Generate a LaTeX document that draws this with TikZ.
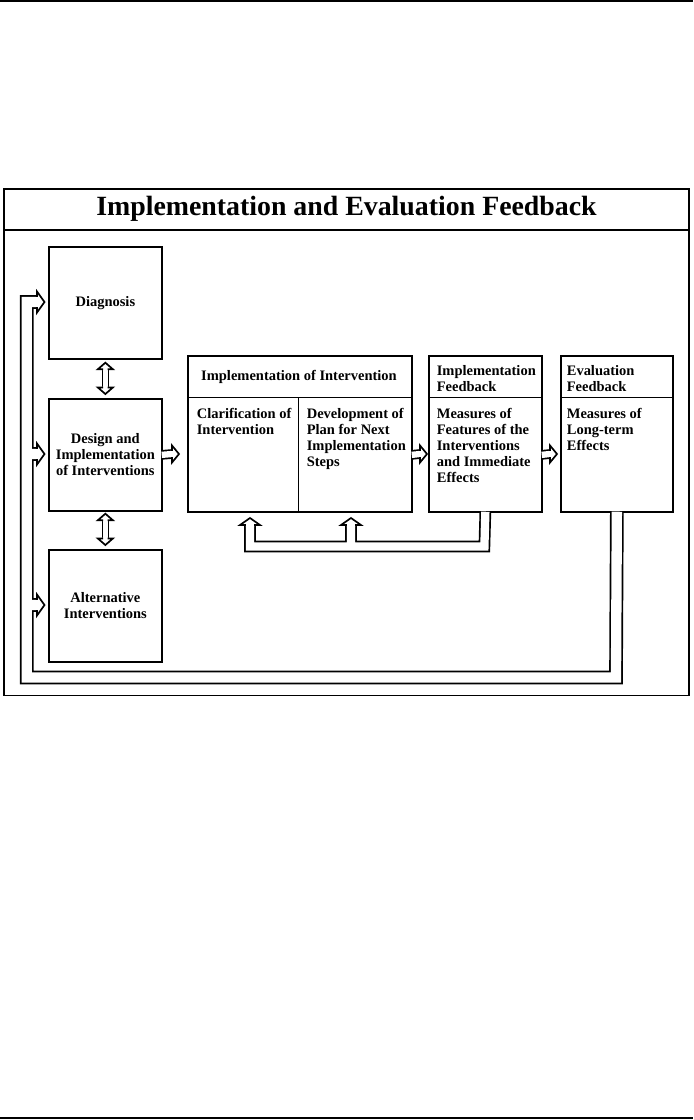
\documentclass[tikz,border=0pt]{standalone}
\usepackage{fontspec}
\setmainfont{Liberation Serif}
\usetikzlibrary{calc}

\tikzset{
  box/.style={draw, inner sep=0pt, minimum width=2.825cm, minimum height=2.8cm, align=center,
    font=\fontsize{10.3}{11.4}\selectfont\bfseries},
  txt/.style={inner sep=0pt, align=left, font=\fontsize{10.3}{11.4}\selectfont\bfseries},
  pipe/.style={white, line width=#1-1.2pt, line join=miter,
    preaction={draw=black, line width=#1+1.2pt, line join=miter}},
  pics/head/.style n args={3}{code={
    \filldraw[fill=white, line width=1.2pt, line join=miter]
      (-1,#1) -- (0,#1) -- (0,#2) -- (#3,0) -- (0,-#2) -- (0,-#1) -- (-1,-#1);}}
}

\begin{document}
\begin{tikzpicture}[x=0.025cm, y=-0.025cm, line width=1.2pt]
\useasboundingbox (0,0) rectangle (693,1120);

\draw[line width=1.6pt] (0,1.2) -- (693,1.2);
\draw[line width=1.6pt] (0,1117.9) -- (693,1117.9);

\draw (4,189) rectangle (689,695.5);
\draw (4,230) -- (689,230);
\node[font=\fontsize{19.8}{24}\selectfont\bfseries] (ttl) at (346.5,209) {Implementation and Evaluation Feedback};

\node[box, anchor=north west] (diag) at (48,246) {Diagnosis};
\node[box, anchor=north west] (desg) at (48,398) {Design and\\Implementation\\of Interventions};
\node[box, anchor=north west] (alt) at (48,549) {Alternative\\Interventions};

\node[box, anchor=north west, minimum width=5.6cm, minimum height=3.9cm] (impl) at (187,355) {};
\node[box, anchor=north west, minimum height=3.9cm] (ifb) at (428,355) {};
\node[box, anchor=north west, minimum width=2.8cm, minimum height=3.9cm] (efb) at (560,355) {};
\draw (187,397.5) -- (411,397.5);
\draw (298.5,397.5) -- (298.5,511);
\draw (428,397.5) -- (541,397.5);
\draw (560,397.5) -- (672,397.5);

\node[txt] (ihd) at (299,377) {Implementation of Intervention};
\node[txt, anchor=north west] (clar) at (196,407.5) {Clarification of\\Intervention};
\node[txt, anchor=north west] (dev) at (306,407.5) {Development of\\Plan for Next\\Implementation\\Steps};
\node[txt, anchor=north west] (ifbh) at (436,364.5) {Implementation\\Feedback};
\node[txt, anchor=north west] (ifbt) at (436,407.5) {Measures of\\Features of the\\Interventions\\and Immediate\\Effects};
\node[txt, anchor=north west] (efbh) at (566,364.5) {Evaluation\\Feedback};
\node[txt, anchor=north west] (efbt) at (566,407.5) {Measures of\\Long-term\\Effects};

% arrows between the boxes
\draw[pipe=0.2cm] ($(desg.east)+(-1,0)$) -- (172,454);
\pic at (172,454) {head={4}{8.5}{7}};
\draw[pipe=0.2cm] ($(impl.east |- desg.east)+(-1,0)$) -- (420,454);
\pic at (420,454) {head={4}{8.5}{7}};
\draw[pipe=0.2cm] ($(ifb.east |- desg.east)+(-1,0)$) -- (550,454);
\pic at (550,454) {head={4}{8.5}{7}};

\draw[pipe=0.15cm] ($(diag.south)+(0,9.5)$) -- ($(desg.north)+(0,-10.5)$);
\pic[rotate=90] at ($(diag.south)+(0,9.5)$) {head={3}{7.5}{6.5}};
\pic[rotate=-90] at ($(desg.north)+(0,-10.5)$) {head={3}{7.5}{6.5}};
\draw[pipe=0.15cm] ($(desg.south)+(0,8.5)$) -- ($(alt.north)+(0,-10.5)$);
\pic[rotate=90] at ($(desg.south)+(0,8.5)$) {head={3}{7.5}{6.5}};
\pic[rotate=-90] at ($(alt.north)+(0,-10.5)$) {head={3}{7.5}{6.5}};

% implementation feedback
\draw[pipe=0.25cm] ($(ifb.south)+(0,-1)$) -- (484.4,546.5) -- (250,546.5) -- (250,525)
  (351,546.5) -- (351,525);
\pic[rotate=90] at (250,525) {head={5}{10}{7}};
\pic[rotate=90] at (351,525) {head={5}{10}{7}};

% evaluation feedback
\draw[pipe=0.3cm] ($(efb.south)+(0,-1)$) -- (616,677.5) -- (26.7,677.5) -- (26.7,302) -- (37,302)
  (26.7,454) -- (37,454) (26.7,605) -- (37,605);
\pic at (37,302) {head={6}{10.5}{7.5}};
\pic at (37,454) {head={6}{10.5}{7.5}};
\pic at (37,605) {head={6}{10.5}{7.5}};

\end{tikzpicture}
\end{document}
